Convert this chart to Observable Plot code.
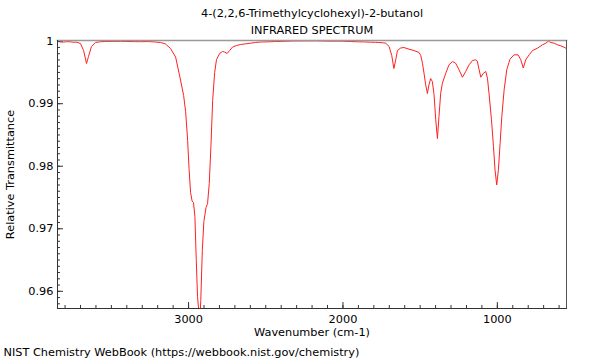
<!DOCTYPE html>
<html>
<head>
<meta charset="utf-8">
<script src="https://cdn.jsdelivr.net/npm/d3@7"></script>
<script src="https://cdn.jsdelivr.net/npm/@observablehq/plot@0.6"></script>
<style>
  html, body { margin: 0; padding: 0; background: white; }
</style>
</head>
<body>
<div id="chart"></div>
<script>
const titleLine1 = "4-(2,2,6-Trimethylcyclohexyl)-2-butanol";
const titleLine2 = "INFRARED SPECTRUM";
const xLabel = "Wavenumber (cm-1)";
const yLabel = "Relative Transmittance";
const footer = "NIST Chemistry WebBook (https://webbook.nist.gov/chemistry)";

const xTickValues = [3000, 2000, 1000];
const yTickValues = [0.96, 0.97, 0.98, 0.99, 1];

const wavenumber = [
  3849, 3830, 3810, 3790, 3765, 3745, 3726, 3700, 3680, 3661, 3648, 3629, 3603, 3570, 3538, 3490, 3441,
  3400, 3350, 3311, 3260, 3214, 3181, 3149, 3117, 3084, 3052, 3032, 3019, 3006, 2997, 2987, 2977,
  2968, 2959, 2950, 2942, 2933, 2927, 2921, 2911, 2901, 2887, 2877, 2866, 2855, 2844, 2831, 2819,
  2799, 2780, 2767, 2750, 2734, 2715, 2690, 2663, 2630, 2598, 2565, 2533, 2480, 2436, 2380, 2326,
  2260, 2177, 2120, 2080, 2040, 2002, 1950, 1898, 1860, 1820, 1790, 1769, 1745, 1723, 1701, 1684,
  1670, 1658, 1647, 1626, 1605, 1572, 1540, 1507, 1496, 1485, 1475, 1464, 1453, 1443, 1432, 1421,
  1410, 1399, 1388, 1378, 1367, 1356, 1334, 1313, 1291, 1270, 1248, 1226, 1205, 1183, 1161, 1140,
  1130, 1118, 1107, 1090, 1075, 1064, 1054, 1038, 1025, 1015, 1004, 993, 982, 971, 956, 939, 918,
  892, 866, 848, 832, 816, 794, 772, 740, 708, 686, 669, 654, 632, 610, 589, 568, 552
];
const transmittance = [
  0.99995, 0.99988, 0.99985, 0.99992, 0.99990, 0.99983, 0.99985, 0.99963, 0.99851, 0.99643, 0.99755, 0.99915, 0.99979, 0.99992, 0.99995, 0.99997, 0.99998,
  0.99996, 0.99993, 0.99992, 0.99994, 0.99987, 0.99979, 0.99955, 0.99883, 0.99747, 0.99379, 0.99131, 0.98875, 0.98411, 0.97963, 0.97579, 0.97443,
  0.97419, 0.97195, 0.96491, 0.95915, 0.95659, 0.95540, 0.95851, 0.96651, 0.97115, 0.97339, 0.97403, 0.97723, 0.98331, 0.99051, 0.99499, 0.99707,
  0.99803, 0.99835, 0.99827, 0.99803, 0.99851, 0.99907, 0.99930, 0.99947, 0.99958, 0.99968, 0.99980, 0.99987, 0.99990, 0.99995, 0.99998, 1.00003,
  1.00004, 1.00005, 1.00002, 1.00000, 1.00001, 1.00000, 0.99995, 0.99990, 0.99988, 0.99984, 0.99982, 0.99979, 0.99975, 0.99968, 0.99915, 0.99771,
  0.99563, 0.99702, 0.99851, 0.99891, 0.99899, 0.99872, 0.99851, 0.99819, 0.99771, 0.99648, 0.99488, 0.99302, 0.99163, 0.99302, 0.99403, 0.99355,
  0.99147, 0.98742, 0.98443, 0.98795, 0.99168, 0.99328, 0.99488, 0.99622, 0.99675, 0.99648, 0.99542, 0.99424, 0.99515, 0.99622, 0.99691, 0.99702,
  0.99683, 0.99542, 0.99424, 0.99488, 0.99515, 0.99408, 0.99168, 0.98742, 0.98315, 0.97942, 0.97702, 0.97942, 0.98368, 0.98795, 0.99222, 0.99542, 0.99712,
  0.99782, 0.99782, 0.99702, 0.99571, 0.99702, 0.99782, 0.99851, 0.99888, 0.99942, 0.99968, 1.00000, 0.99979, 0.99968, 0.99942, 0.99926, 0.99904, 0.99883
];

const spectrum = wavenumber.map((w, i) => ({wn: w, t: transmittance[i]}));

const W = 600, H = 360;
const mLeft = 57, mRight = 34, mTop = 40, mBottom = 52;
const innerW = W - mLeft - mRight;
const innerH = H - mTop - mBottom;

const xMinor = d3.range(3800, 599, -100);
const yMinor = d3.range(958, 1001, 1).map(v => v / 1000);

const chart = Plot.plot({
  width: W,
  height: H,
  marginLeft: mLeft,
  marginRight: mRight,
  marginTop: mTop,
  marginBottom: mBottom,
  style: {fontFamily: "DejaVu Sans", fontSize: "11.3px", background: "white", color: "black"},
  x: {domain: [3849, 552]},
  y: {domain: [0.95725, 1.00011]},
  marks: [
    Plot.line(spectrum, {x: "wn", y: "t", stroke: "#ff2020", strokeWidth: 1, clip: true}),
    Plot.tickX(xMinor, {x: d => d, insetTop: innerH - 3, stroke: "#333"}),
    Plot.tickX(xTickValues, {x: d => d, insetTop: innerH - 6, stroke: "#333"}),
    Plot.tickY(yMinor, {y: d => d, insetRight: innerW - 3, stroke: "#333"}),
    Plot.tickY(yTickValues, {y: d => d, insetRight: innerW - 6, stroke: "#333"}),
    Plot.frame({anchor: "top", stroke: "#999", strokeWidth: 1.5}),
    Plot.frame({anchor: "right", stroke: "#555"}),
    Plot.frame({anchor: "left", stroke: "#333"}),
    Plot.frame({anchor: "bottom", stroke: "#333"}),
    Plot.axisX({ticks: xTickValues, tickSize: 0, tickPadding: 6, tickFormat: d => String(d), label: null}),
    Plot.axisY({ticks: yTickValues, tickSize: 0, tickPadding: 4, tickFormat: d => String(+d.toFixed(2)), label: null}),
    Plot.text([titleLine1], {frameAnchor: "top", dy: -27, text: d => d, fill: "black", lineAnchor: "middle", textAnchor: "middle"}),
    Plot.text([titleLine2], {frameAnchor: "top", dy: -10, text: d => d, fill: "black", lineAnchor: "middle", textAnchor: "middle"}),
    Plot.text([xLabel], {frameAnchor: "bottom", dy: 24, text: d => d, fill: "black", lineAnchor: "middle", textAnchor: "middle"}),
    Plot.text([yLabel], {frameAnchor: "left", dx: -47, rotate: -90, text: d => d, fill: "black", lineAnchor: "middle", textAnchor: "middle"}),
    Plot.text([footer], {frameAnchor: "bottom-left", dx: -54, dy: 44, textAnchor: "start", lineAnchor: "middle", text: d => d, fill: "black"})
  ]
});
document.getElementById("chart").appendChild(chart);
</script>
</body>
</html>
